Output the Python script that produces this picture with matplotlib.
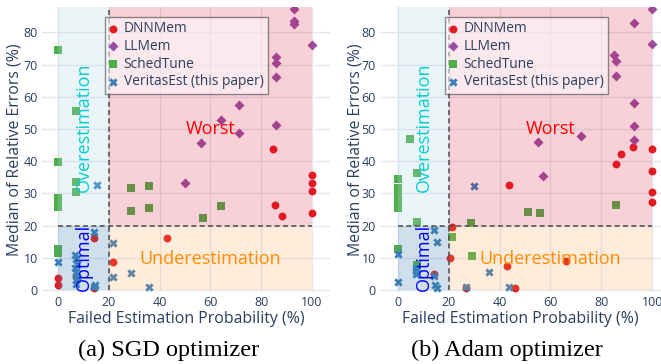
import matplotlib
matplotlib.use("Agg")
import matplotlib.pyplot as plt
from matplotlib.patches import Rectangle

# ---------------- data ----------------
# (a) SGD optimizer
dnn_sgd_x = [100, 84.5, 100, 100, 100, 85.6, 88.1, 42.8, 21.5, 14.3, 0, 0, 14.3, 7.0]
dnn_sgd_y = [35.7, 43.8, 33.1, 30.7, 24.0, 26.3, 23.0, 16.3, 8.6, 16.3, 3.9, 1.6, 0.6, 4.5]
llm_sgd_x = [92.9, 92.9, 92.9, 100, 85.8, 85.8, 85.8, 71.4, 85.8, 64.3, 71.4, 56.4, 50]
llm_sgd_y = [87.2, 83.6, 82.6, 76.0, 72.5, 70.6, 66.2, 57.4, 51.3, 52.8, 48.9, 45.7, 33.1]
sched_sgd_x = [0, 7.2, 0, 7.2, 7.2, 0, 0, 0, 0, 0, 28.6, 28.6, 35.7, 35.7, 64.3, 57.2]
sched_sgd_y = [74.7, 55.6, 39.7, 33.6, 30.5, 28.7, 27.2, 25.8, 12.8, 11.6, 31.6, 24.4, 32.2, 25.4, 26.1, 22.3]
ver_sgd_x = [15.4, 14.3, 21.5, 21.5, 28.6, 35.7, 0, 6.8, 7.1, 7.4, 6.8, 7.1, 7.4, 7.0, 7.1, 14.3, 14.6]
ver_sgd_y = [32.6, 18.1, 14.7, 4.1, 5.2, 0.8, 8.6, 11.0, 9.6, 8.2, 6.8, 5.5, 4.2, 3.0, 2.0, 0.8, 1.5]

# (b) Adam optimizer
dnn_adam_x = [100, 100, 92.4, 87.8, 85.7, 100, 100, 43.8, 21.4, 20.5, 42.8, 66.0, 46.2, 14.3, 26.8]
dnn_adam_y = [43.7, 37.1, 44.3, 42.3, 39.2, 30.5, 27.2, 32.6, 19.7, 9.9, 7.6, 9.1, 0.6, 4.9, 0.5]
llm_adam_x = [100, 92.9, 100, 85.0, 85.8, 85.8, 92.9, 92.9, 92.9, 71.9, 55.1, 57.2]
llm_adam_y = [87.2, 83.0, 76.3, 73.0, 71.1, 66.5, 58.0, 51.1, 46.6, 47.8, 46.1, 35.4]
sched_adam_x = [4.7, 7.3, 0, 0, 0, 0, 0, 7.3, 0, 7.3, 21.4, 29.3, 28.6, 51.3, 56.0, 85.6]
sched_adam_y = [46.8, 36.2, 34.4, 31.8, 29.2, 28.0, 25.5, 21.2, 12.9, 7.8, 16.6, 10.7, 20.9, 24.1, 23.8, 26.4]
ver_adam_x = [29.9, 14.3, 15.4, 0, 0, 7.0, 7.2, 7.0, 14.3, 14.7, 15.4, 26.8, 35.8, 43.8]
ver_adam_y = [32.4, 18.6, 14.8, 11.2, 2.5, 6.8, 5.8, 4.9, 4.5, 1.6, 0.5, 0.8, 5.7, 0.8]

series_names = ["DNNMem", "LLMem", "SchedTune", "VeritasEst (this paper)"]
x_ticks = [0, 20, 40, 60, 80, 100]
y_ticks = [0, 10, 20, 30, 40, 50, 60, 70, 80]
x_title = "Failed Estimation Probability (%)"
y_title = "Median of Relative Errors (%)"
captions = ["(a) SGD optimizer", "(b) Adam optimizer"]

# ---------------- style ----------------
FONT = "Open Sans"
TXT = "#2a3f5f"
colors = ["#e41a1c", "#984ea3", "#4daf4a", "#377eb8"]
markers = ["o", "D", "s", "X"]
sizes = [32, 26, 34, 36]

W, H = 661, 364
fig = plt.figure(figsize=(W / 100, H / 100), dpi=100)

def px_axes(l, t, r, b):
    return fig.add_axes([l / W, 1 - b / H, (r - l) / W, (b - t) / H])

panels = [
    dict(rect=(42, 7, 330, 292), xlim=(-6.3, 107.1),
         data=[(dnn_sgd_x, dnn_sgd_y), (llm_sgd_x, llm_sgd_y),
               (sched_sgd_x, sched_sgd_y), (ver_sgd_x, ver_sgd_y)],
         legend=(105, 17), ylab_x=15, cap_x=169),
    dict(rect=(380, 7, 661, 292), xlim=(-7.1, 103.5),
         data=[(dnn_adam_x, dnn_adam_y), (llm_adam_x, llm_adam_y),
               (sched_adam_x, sched_adam_y), (ver_adam_x, ver_adam_y)],
         legend=(445, 17), ylab_x=355, cap_x=507),
]

YMIN, YMAX = -0.6, 87.9
for i, p in enumerate(panels):
    ax = px_axes(*p["rect"])
    ax.set_xlim(*p["xlim"])
    ax.set_ylim(YMIN, YMAX)
    for s in ax.spines.values():
        s.set_visible(False)
    ax.set_axisbelow(True)
    ax.grid(True, color="#e2e8f1", linewidth=1.0)
    ax.set_xticks(x_ticks)
    ax.set_yticks(y_ticks)
    ax.tick_params(length=0, labelsize=9, labelcolor=TXT, pad=3)
    for lab in ax.get_xticklabels() + ax.get_yticklabels():
        lab.set_fontfamily(FONT)

    handles = []
    for (xs, ys), c, m, s, name in zip(p["data"], colors, markers, sizes, series_names):
        h = ax.scatter(xs, ys, s=s, marker=m, color=c, linewidths=0, zorder=2, label=name)
        handles.append(h)

    # shaded regions (drawn above markers, semi-transparent)
    ax.add_patch(Rectangle((0, 20), 20, 100, facecolor=(173/255, 216/255, 230/255), alpha=0.25, lw=0, zorder=3))
    ax.add_patch(Rectangle((0, 0), 20, 20, facecolor=(70/255, 130/255, 180/255), alpha=0.25, lw=0, zorder=3))
    ax.add_patch(Rectangle((20, 20), 80, 100, facecolor=(220/255, 20/255, 60/255), alpha=0.2, lw=0, zorder=3))
    ax.add_patch(Rectangle((20, 0), 80, 20, facecolor=(255/255, 165/255, 80/255), alpha=0.2, lw=0, zorder=3))

    ax.plot([20, 20], [0, 100], color="#555555", lw=1.2, ls=(0, (3, 2)), zorder=4)
    ax.plot([0, 100], [20, 20], color="#555555", lw=1.2, ls=(0, (3, 2)), zorder=4)

    fs_reg = 13
    ax.text(60, 50, "Worst", color="red", fontsize=fs_reg, family=FONT, ha="center", va="center", zorder=5)
    ax.text(60, 9.5, "Underestimation", color="darkorange", fontsize=fs_reg, family=FONT, ha="center", va="center", zorder=5)
    ax.text(10.3, 50.5, "Overestimation", color="darkturquoise", fontsize=fs_reg, family=FONT, ha="center", va="center", rotation=90, zorder=5)
    ax.text(10, 10, "Optimal", color="blue", fontsize=fs_reg, family=FONT, ha="center", va="center", rotation=90, zorder=5)

    leg = ax.legend(handles=handles, loc="upper left",
                    bbox_to_anchor=(p["legend"][0] / W, 1 - p["legend"][1] / H),
                    bbox_transform=fig.transFigure, borderaxespad=0,
                    prop={"family": FONT, "size": 9.9}, labelcolor=TXT,
                    frameon=True, fancybox=False, framealpha=0.55,
                    edgecolor="#333333", facecolor="white",
                    handlelength=0.6, handletextpad=0.45, labelspacing=0.2,
                    borderpad=0.3, scatterpoints=1)
    leg.get_frame().set_linewidth(1.0)
    leg.set_zorder(6)

    ax.set_xlabel(x_title, fontsize=11.4, family=FONT, color=TXT, labelpad=1)
    fig.text(p["ylab_x"] / W, 1 - 149.5 / H, y_title, rotation=90, fontsize=11.4,
             family=FONT, color=TXT, ha="center", va="center")
    fig.text(p["cap_x"] / W, 1 - 350 / H, captions[i], fontsize=17.5, family="Liberation Serif",
             color="black", ha="center", va="center")

fig.savefig("out.png", dpi=100)
